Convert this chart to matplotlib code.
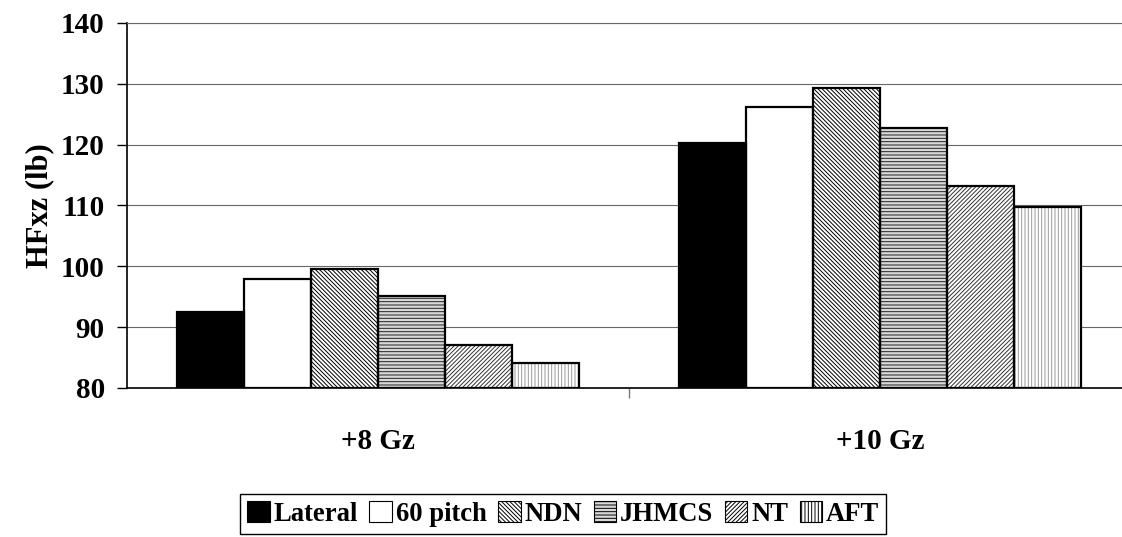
import matplotlib.pyplot as plt
import numpy as np
from matplotlib.patches import Patch

plt.rcParams['font.family'] = ['Liberation Serif', 'DejaVu Serif']
plt.rcParams['font.weight'] = 'bold'
plt.rcParams['hatch.linewidth'] = 0.7

# --- data ---
groups = ['+8 Gz', '+10 Gz']
series = ['Lateral', '60 pitch', 'NDN', 'JHMCS', 'NT', 'AFT']
lateral = [92.5, 120.2]
pitch60 = [97.9, 126.2]
ndn = [99.5, 129.3]
jhmcs = [95.1, 122.8]
nt = [87.0, 113.2]
aft = [84.1, 109.8]
values = [lateral, pitch60, ndn, jhmcs, nt, aft]
yticks = [80, 90, 100, 110, 120, 130, 140]

# fill, hatch, hatch colour
styles = [
    ('black', '', 'black'),
    ('white', '', 'black'),
    ('white', '\\' * 8, 'black'),
    ('#d8d8d8', '-----', '#222222'),
    ('white', '/' * 8, '#333333'),
    ('white', '|||||', '#9a9a9a'),
]

fig = plt.figure(figsize=(11.22, 5.37), dpi=100)
ax = fig.add_axes([0.1132, 0.2775, 0.895, 0.6797])

x = np.arange(len(groups))
w = 0.8 / len(series)
for i, (vals, (fc, hatch, hc)) in enumerate(zip(values, styles)):
    pos = x - 0.4 + w * (i + 0.5)
    heights = np.array(vals) - 80
    # hatched fill, then black outline on top
    ax.bar(pos, heights, w, bottom=80, color=fc, hatch=hatch, edgecolor=hc,
           linewidth=0, zorder=2)
    ax.bar(pos, heights, w, bottom=80, facecolor='none', edgecolor='black',
           linewidth=1.6, zorder=3)

ax.set_xlim(-0.5, 1.5)
ax.set_ylim(80, 140)
ax.set_yticks(yticks)
ax.set_yticklabels([str(v) for v in yticks], fontsize=21, fontweight='bold')
ax.tick_params(axis='y', direction='out', length=7, width=1, pad=9)

ax.set_xticks(x)
ax.set_xticklabels(groups, fontsize=21, fontweight='bold')
ax.tick_params(axis='x', which='major', length=0, pad=29)
ax.set_xticks([0.5], minor=True)
ax.tick_params(axis='x', which='minor', direction='out', length=7, width=1, color='#777777')

ax.set_ylabel('HFxz (lb)', fontsize=22, fontweight='bold', labelpad=5)

ax.grid(axis='y', color='#666666', linewidth=0.8, zorder=0)
ax.set_axisbelow(True)
ax.spines['right'].set_visible(False)
ax.spines['top'].set_linestyle(':')
ax.spines['top'].set_color('#666666')
ax.spines['left'].set_linewidth(1.2)
ax.spines['bottom'].set_linewidth(1.2)

handles = [Patch(facecolor=fc, hatch=h, edgecolor='black', linewidth=0.8)
           for fc, h, hc in styles]
fig.legend(handles, series, loc='center', bbox_to_anchor=(0.502, 0.043), ncol=6,
           frameon=True, fancybox=False, edgecolor='black', framealpha=1,
           prop={'size': 19.2, 'weight': 'bold'}, handlelength=0.85, handleheight=0.85,
           handletextpad=0.15, columnspacing=0.42, borderpad=0.25, borderaxespad=0)

fig.savefig('out.png', dpi=100)
